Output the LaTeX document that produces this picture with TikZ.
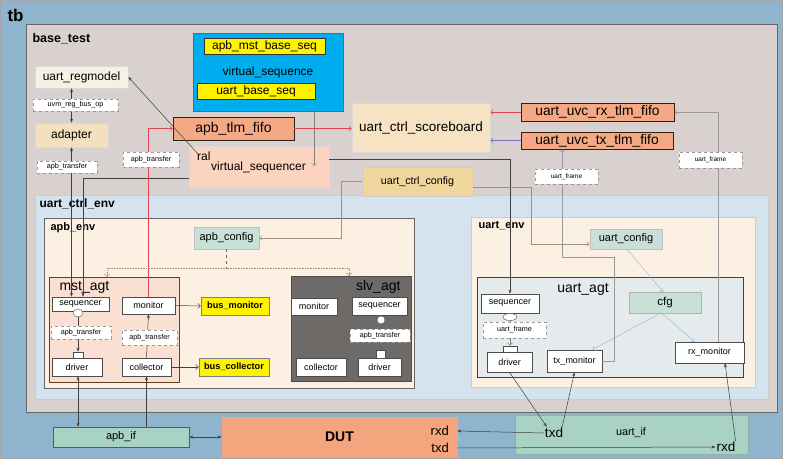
\documentclass[tikz,border=0pt]{standalone}
\usepackage{fontspec}
\setmainfont{Liberation Sans}
\usetikzlibrary{arrows.meta,calc,shapes.geometric}
\newcommand{\fsz}[1]{\fontsize{#1}{#1}\selectfont}
\definecolor{tbblue}{RGB}{143,181,206}
\definecolor{basegrey}{RGB}{217,209,208}
\definecolor{envblue}{RGB}{212,227,237}
\definecolor{creamc}{RGB}{252,240,226}
\definecolor{mstpink}{RGB}{249,224,210}
\definecolor{slvgrey}{RGB}{110,106,103}
\definecolor{agtgrey}{RGB}{229,235,237}
\definecolor{cfgteal}{RGB}{200,224,216}
\definecolor{vseqblue}{RGB}{0,174,239}
\definecolor{fifoc}{RGB}{244,168,132}
\definecolor{vsqrc}{RGB}{251,211,190}
\definecolor{sbc}{RGB}{247,227,196}
\definecolor{regc}{RGB}{247,240,229}
\definecolor{adc}{RGB}{244,223,190}
\definecolor{uccc}{RGB}{240,213,156}
\definecolor{dutc}{RGB}{245,165,126}
\definecolor{ifc}{RGB}{168,210,193}
\definecolor{redl}{RGB}{225,70,80}
\definecolor{purl}{RGB}{120,118,185}
\definecolor{cfgl}{RGB}{160,146,120}
\definecolor{bluel}{RGB}{140,180,215}
\tikzset{
 bx/.style={draw=black!70, line width=0.6pt, inner sep=0pt, align=center},
 wbox/.style={bx, fill=white, font=\fsz{9}},
 ybox/.style={bx, fill=yellow, draw=black!80, font=\fsz{12}},
 ybold/.style={bx, fill=yellow, draw=black!50, font=\bfseries\fsz{9.2}},
 fbox/.style={bx, fill=fifoc, draw=black!75!brown, line width=0.8pt},
 tbox/.style={bx, fill=cfgteal, draw=black!25},
 lbl/.style={draw=black!40, dashed, fill=white, inner sep=0pt, font=\fsz{7.2}},
 dk/.style={draw=black!75, line width=0.5pt},
 tipA/.style={-{Stealth[length=4pt,width=3pt]}},
 tipB/.style={{Stealth[length=4pt,width=3pt]}-{Stealth[length=4pt,width=3pt]}},
 tipO/.style={-{Straight Barb[length=2.5pt,width=5pt]}}
}
\begin{document}
\begin{tikzpicture}[x=1pt,y=-1pt]
\useasboundingbox (0,0) rectangle (788,462);
\fill[white] (0,0) rectangle (788,462);
% tb
\draw[fill=tbblue, draw=black!35] (0.5,0.5) rectangle (782,458);
\node[anchor=west, font=\bfseries\fsz{17}] (tbLbl) at (4,15) {tb};
% base_test
\draw[fill=basegrey, draw=black!60, line width=0.8pt] (26,24) rectangle (777,412);
\node[anchor=west, font=\bfseries\fsz{12.5}] (btLbl) at (29,39) {base\_test};
% uart_ctrl_env
\draw[fill=envblue, draw=black!20, line width=0.6pt] (35,195) rectangle (768,399);
\node[anchor=west, font=\bfseries\fsz{12}] (uceLbl) at (36,204) {uart\_ctrl\_env};
\draw[fill=creamc, draw=black!60] (44,218) rectangle (414,388);
\node[anchor=west, font=\bfseries\fsz{11}] (apbenvLbl) at (47,228) {apb\_env};
\draw[fill=creamc, draw=black!20] (471,217) rectangle (755,387);
\node[anchor=west, font=\bfseries\fsz{11}] (uenvLbl) at (475,226) {uart\_env};
\draw[fill=mstpink, draw=black!50!brown] (49,277) rectangle (179,382);
\node[anchor=west, font=\fsz{14}] (mstLbl) at (56,287) {mst\_agt};
\draw[fill=slvgrey, draw=black!70] (291,276) rectangle (411,381);
\node[anchor=east, font=\fsz{14}] (slvLbl) at (404,287) {slv\_agt};
\draw[fill=agtgrey, draw=black!75] (477,277) rectangle (743,377);
\node[font=\fsz{14}] (uagtLbl) at (583,289) {uart\_agt};

% ---- base_test boxes
\node[bx, fill=vseqblue, draw=vseqblue!80!black, minimum width=150pt, minimum height=78pt] (vseq) at (268,72) {};
\node[font=\fsz{12}] (vseqLbl) at (268,72) {virtual\_sequence};
\node[ybox, minimum width=121pt, minimum height=16pt] (mstseq) at (264.5,46) {apb\_mst\_base\_seq};
\node[ybox, minimum width=118pt, minimum height=16pt] (ubseq) at (256,91) {uart\_base\_seq};
\node[bx, fill=regc, draw=black!15, font=\fsz{12}, minimum width=93pt, minimum height=22pt] (regm) at (81.5,77) {uart\_regmodel};
\node[bx, fill=adc, draw=black!15, font=\fsz{12}, minimum width=73pt, minimum height=24pt] (adapt) at (71.5,135) {adapter};
\node[fbox, font=\fsz{14}, minimum width=121pt, minimum height=23pt] (apbfifo) at (233.5,128.5) {apb\_tlm\_fifo};
\node[bx, fill=vsqrc, draw=black!15, minimum width=140pt, minimum height=42pt] (vsqr) at (259,167) {};
\node[font=\fsz{12}] (vsqrLbl) at (258.5,167) {virtual\_sequencer};
\node[anchor=west, font=\fsz{12}, inner sep=0pt] (ral) at (197,156) {ral};
\node[bx, fill=sbc, draw=black!15, font=\fsz{13.5}, minimum width=138pt, minimum height=49pt] (sb) at (421,127.5) {uart\_ctrl\_scoreboard};
\node[fbox, font=\fsz{13.8}, minimum width=153pt, minimum height=18pt] (rxfifo) at (597.5,112) {uart\_uvc\_rx\_tlm\_fifo};
\node[fbox, font=\fsz{13.8}, minimum width=152pt, minimum height=17pt] (txfifo) at (597,140.5) {uart\_uvc\_tx\_tlm\_fifo};
\node[bx, fill=uccc, draw=black!20, font=\fsz{10.7}, minimum width=111pt, minimum height=29pt] (ucc) at (417.5,181.5) {uart\_ctrl\_config};

% ---- apb_env
\node[tbox, font=\fsz{11}, minimum width=65pt, minimum height=22pt] (apbcfg) at (226.5,238) {apb\_config};
\node[wbox, minimum width=57pt, minimum height=14pt] (mseq) at (80.5,304) {sequencer};
\node[draw=black!70, fill=white, ellipse, minimum width=10pt, minimum height=8pt, inner sep=0pt] (moval) at (78,313) {};
\node[bx, fill=white, minimum width=10pt, minimum height=6pt] (msq) at (78,355) {};
\node[wbox, minimum width=50pt, minimum height=18pt] (mdrv) at (77,367) {driver};
\node[wbox, minimum width=53pt, minimum height=17pt] (mmon) at (148.5,305.5) {monitor};
\node[wbox, minimum width=49pt, minimum height=18pt] (mcol) at (146.5,367) {collector};
\node[ybold, minimum width=68pt, minimum height=18pt] (busmon) at (235,306) {bus\_monitor};
\node[ybold, minimum width=70pt, minimum height=18pt] (buscol) at (234,367) {bus\_collector};
\node[wbox, minimum width=46pt, minimum height=17pt] (smon) at (314,306.5) {monitor};
\node[wbox, minimum width=55pt, minimum height=18pt] (sseq) at (379.5,306) {sequencer};
\node[draw=black!70, fill=white, circle, minimum size=8pt, inner sep=0pt] (scirc) at (381,320) {};
\node[bx, fill=white, minimum width=9pt, minimum height=8pt] (ssq) at (380.5,354) {};
\node[wbox, minimum width=50pt, minimum height=18pt] (scol) at (321,367) {collector};
\node[wbox, minimum width=43pt, minimum height=18pt] (sdrv) at (379.5,367) {driver};

% ---- uart_env
\node[tbox, font=\fsz{11}, minimum width=72pt, minimum height=20pt] (ucfg) at (626,239) {uart\_config};
\node[wbox, minimum width=58pt, minimum height=19pt] (useq) at (510,303.5) {sequencer};
\node[draw=black!70, fill=white, ellipse, minimum width=14pt, minimum height=7pt, inner sep=0pt] (uoval) at (510,317) {};
\node[bx, fill=white, minimum width=14pt, minimum height=6pt] (usq) at (510,349) {};
\node[wbox, minimum width=45pt, minimum height=20pt] (udrv) at (509.5,362) {driver};
\node[wbox, minimum width=55pt, minimum height=22pt] (txmon) at (574.5,361) {tx\_monitor};
\node[tbox, draw=black!30, font=\fsz{11.5}, minimum width=72pt, minimum height=21pt] (cfg) at (665,302.5) {cfg};
\node[wbox, minimum width=69pt, minimum height=21pt] (rxmon) at (709.5,352.5) {rx\_monitor};

% ---- bottom
\node[bx, fill=ifc, draw=black!65, font=\fsz{11}, minimum width=136pt, minimum height=20pt] (apbif) at (121,437) {apb\_if};
\node[bx, fill=dutc, draw=dutc, font=\bfseries\fsz{14}, minimum width=235pt, minimum height=40pt] (dut) at (339.5,437) {DUT};
\node[anchor=east, font=\fsz{13}, inner sep=0pt] (dutrxd) at (449,431) {rxd};
\node[anchor=east, font=\fsz{13}, inner sep=0pt] (duttxd) at (449,448) {txd};
\node[bx, fill=ifc, draw=ifc!85!black, minimum width=233pt, minimum height=39pt] (uif) at (631.5,434.5) {};
\node[font=\fsz{10.7}] (uifLbl) at (631,433) {uart\_if};
\node[font=\fsz{13.5}, inner sep=1pt] (utxd) at (554,433) {txd};
\node[font=\fsz{13.5}, inner sep=1pt] (urxd) at (726,447) {rxd};

% ---- coordinates
\coordinate (ralpt) at (198,154);
\coordinate (vsqrIn) at (314,166);
\coordinate (dj) at (226.5,268);
\coordinate (mstTop) at (107,277);
\coordinate (slvTop) at (349,276);

% ---- connectors
\draw[dk, tipB] (adapt.north) -- (adapt.north |- regm.south);
\draw[dk, tipB] (adapt.south) -- (adapt.south |- mseq.north);
\draw[dk, tipA] (vsqr.west |- 0,178) -| ([xshift=2.5pt]mseq.north);
\draw[dk, tipA] (ralpt) -- (regm.east);
\draw[draw=black!50, line width=0.5pt, tipO] (vseq.south -| vsqrIn) -- (vsqrIn);
\draw[dk, tipA] (vsqr.east |- 0,159) -| (useq.north);
\draw[redl, line width=0.5pt, tipO] (mmon.north) |- (apbfifo.west);
\draw[redl, line width=0.5pt, tipO] (apbfifo.east) -- (apbfifo.east -| sb.west);
\draw[redl, line width=0.5pt, tipO] (rxfifo.west) -- (rxfifo.west -| sb.east);
\draw[purl, line width=0.5pt, tipO] (txfifo.west) -- (txfifo.west -| sb.east);
\draw[black!40, line width=0.5pt, tipO] ([xshift=8.5pt]rxmon.north) |- (rxfifo.east);
\draw[black!40, line width=0.5pt, tipO] (txmon.east) -| (614,257) -| ([xshift=-35pt]txfifo.south);
\draw[cfgl, line width=0.5pt, tipO] (ucc.west) -| (341,238) -- (apbcfg.east);
\draw[cfgl, line width=0.5pt, tipO] (ucc.east |- 0,187) -| (531,244) -- (ucfg.west |- 0,244);
\draw[black!60, line width=0.6pt, dashed] (apbcfg.south) -- (dj);
\draw[cfgl, line width=0.6pt, densely dotted, tipO] (dj) -| (mstTop);
\draw[cfgl, line width=0.6pt, densely dotted, tipO] (dj) -| (slvTop);
\draw[dk, tipA] (moval.south) -- (msq.north);
\draw[dk, tipA] (mcol.north) -- (mmon.south);
\draw[dk, tipO] (mmon.east) -- (busmon.west);
\draw[dk, tipO] (mcol.east) -- (buscol.west);
\draw[draw=black!60, line width=0.5pt, tipA] (scirc.south) -- (ssq.north);
\draw[draw=black!50, line width=0.5pt, tipO] (uoval.south) -- (usq.north);
\draw[bluel, line width=0.4pt, tipO] ([xshift=1pt]ucfg.south) -- ([xshift=-2pt]cfg.north);
\draw[bluel, line width=0.4pt, tipO] ([xshift=-3pt]cfg.south) -- ([xshift=-15pt]rxmon.north);
\draw[bluel, line width=0.4pt, tipO] ([xshift=-5pt]cfg.south) -- ([xshift=18pt]txmon.north);
\draw[dk, tipA] (udrv.south) -- ([xshift=3pt]utxd.north west);
\draw[dk, tipA] ([xshift=-2pt]utxd.north east) -- (txmon.south);
\draw[dk, tipA] (utxd.west) -- (dut.east |- dutrxd);
\draw[dk, tipA] (dut.east |- duttxd) -- (urxd.west);
\draw[dk, tipA] ([xshift=-1pt]urxd.north east) -- ([xshift=15.5pt]rxmon.south);
\draw[dk, tipB] ([xshift=1pt]mdrv.south) -- ([xshift=1pt]mdrv.south |- apbif.north);
\draw[dk, tipA] (mcol.south |- apbif.north) -- (mcol.south);
\draw[dk, tipB] (apbif.east) -- (dut.west);

% ---- labels on connectors
\node[lbl, minimum width=85pt, minimum height=12pt] (l1) at (75.5,105) {uvm\_reg\_bus\_op};
\node[lbl, minimum width=60pt, minimum height=12pt] (l2) at (67,167) {apb\_transfer};
\node[lbl, minimum width=56pt, minimum height=15pt] (l3) at (151,159.5) {apb\_transfer};
\node[lbl, font=\fsz{6.5}, minimum width=63pt, minimum height=16pt] (l4) at (710.5,160) {uart\_frame};
\node[lbl, font=\fsz{6.5}, minimum width=63pt, minimum height=15pt] (l5) at (566.5,176.5) {uart\_frame};
\node[lbl, minimum width=60pt, minimum height=13pt] (l6) at (81,332.5) {apb\_transfer};
\node[lbl, minimum width=55pt, minimum height=15pt] (l7) at (149.5,337.5) {apb\_transfer};
\node[lbl, minimum width=60pt, minimum height=13pt] (l8) at (380,335.5) {apb\_transfer};
\node[lbl, minimum width=63pt, minimum height=16pt] (l9) at (514.5,330) {uart\_frame};
\end{tikzpicture}
\end{document}
